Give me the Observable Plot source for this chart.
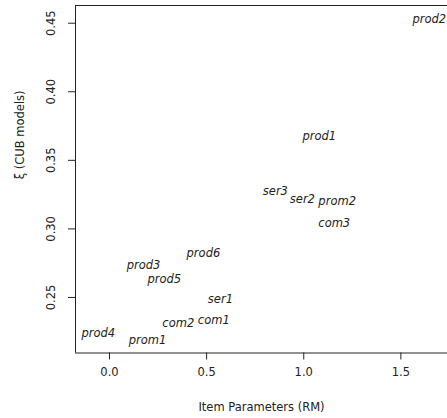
<!DOCTYPE html>
<html>
<head>
<meta charset="utf-8">
<script src="https://cdn.jsdelivr.net/npm/d3@7"></script>
<script src="https://cdn.jsdelivr.net/npm/@observablehq/plot@0.6"></script>
<style>
  html, body { margin: 0; padding: 0; background: #fff; }
  svg { display: block; }
</style>
</head>
<body>
<div id="chart"></div>
<script>
const items = ["prod2", "prod1", "ser3", "ser2", "prom2", "com3", "prod6", "prod3", "prod5", "ser1", "com2", "com1", "prod4", "prom1"];
const rmParams = [1.646, 1.080, 0.854, 0.993, 1.172, 1.157, 0.4835, 0.175, 0.282, 0.571, 0.354, 0.537, -0.0576, 0.196];
const xiCub = [0.453, 0.3675, 0.3272, 0.3219, 0.3204, 0.3039, 0.2819, 0.2731, 0.2631, 0.2483, 0.2315, 0.2332, 0.2235, 0.2186];
const xTicks = [0, 0.5, 1, 1.5];
const yTicks = [0.25, 0.30, 0.35, 0.40, 0.45];
const xDomain = [-0.175, 1.740];
const yDomain = [0.2095, 0.4629];
const xLabel = "Item Parameters (RM)";
const yLabel = "ξ (CUB models)";

const data = items.map((name, i) => ({name, x: rmParams[i], y: xiCub[i]}));
const ink = "#222";

const chart = Plot.plot({
  width: 447,
  height: 418,
  marginLeft: 75,
  marginRight: 0,
  marginTop: 5,
  marginBottom: 65.5,
  style: {fontFamily: "'DejaVu Sans', sans-serif", fontSize: "11.5px", color: ink, background: "#fff"},
  x: {domain: xDomain},
  y: {domain: yDomain},
  marks: [
    Plot.ruleX([xDomain[0]], {stroke: ink, strokeWidth: 1}),
    Plot.ruleY(yDomain, {stroke: ink, strokeWidth: 1}),
    Plot.axisX(xTicks, {tickSize: 7, tickPadding: 8, tickFormat: d3.format(".1f"), label: null, stroke: ink, fill: ink, fontSize: 11.5}),
    Plot.axisY(yTicks, {tickSize: 7, tickPadding: 14, tickRotate: -90, tickFormat: d3.format(".2f"), label: null, stroke: ink, fill: ink, fontSize: 11.5}),
    Plot.text([xLabel], {frameAnchor: "bottom", dy: 54.5, lineAnchor: "middle", text: d => d, fill: ink, fontSize: 11.5}),
    Plot.text([yLabel], {frameAnchor: "left", dx: -55, rotate: -90, lineAnchor: "middle", text: d => d, fill: ink, fontSize: 11.5}),
    Plot.text(data, {x: "x", y: "y", text: "name", fontStyle: "italic", fontSize: 11.5, fill: ink, lineAnchor: "middle"})
  ]
});
document.getElementById("chart").appendChild(chart);
</script>
</body>
</html>
